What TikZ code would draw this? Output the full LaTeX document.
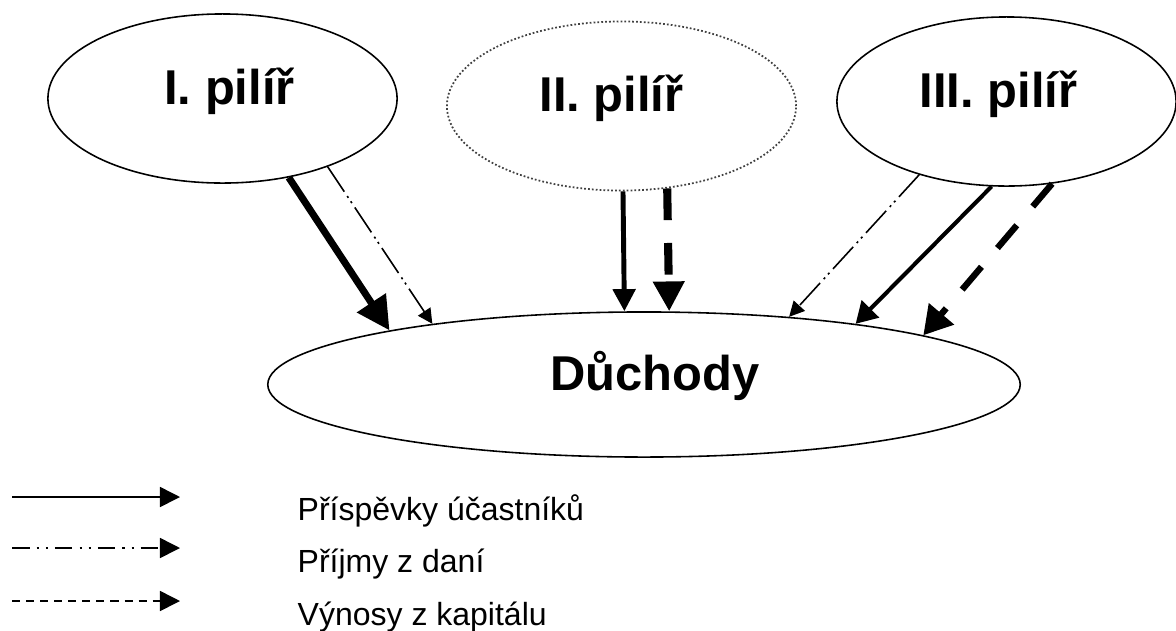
\documentclass[tikz,border=0pt]{standalone}
\usepackage{fontspec}
\setmainfont{Liberation Sans}
\usetikzlibrary{arrows.meta,shapes.geometric}

\begin{document}
\begin{tikzpicture}[x=0.01cm,y=-0.01cm,
  pillar/.style={ellipse, draw, line width=0.45pt, inner sep=0pt,
    minimum width=3.49cm, minimum height=1.69cm,
    text height=0.73em, text depth=0.4em,
    font=\fontsize{13.9}{16}\selectfont\bfseries},
  legendtext/.style={anchor=base west, inner sep=0pt, font=\fontsize{9.1}{11}\selectfont},
  contrib/.style={},
  taxes/.style={line width=0.45pt,
    dash pattern=on 8.5pt off 1.5pt on 0.6pt off 1.2pt on 0.6pt off 1.5pt},
  capital/.style={dash pattern=on 9pt off 6.5pt},
  tip/.style={-{Triangle[length=#1,width=#1]}},
]
\useasboundingbox (0,0) rectangle (1176,630);

% pillars and the pensions they feed
\node[pillar] (p1) at (222.5,98.5) {\hspace*{0.14cm}I. pilíř};
\node[pillar, draw=black!75, line width=0.5pt, dash pattern=on 0.5pt off 0.6pt] (p2) at (621.5,106) {II. pilíř\hspace*{0.2cm}};
\node[pillar, minimum width=3.39cm] (p3) at (1006.5,101.5) {III. pilíř\hspace*{0.16cm}};
\node[pillar, minimum width=7.52cm, minimum height=1.45cm] (d) at (644,384.5) {\hspace*{0.22cm}Důchody};

% I. pilíř
\draw[contrib, line width=2pt, tip=9.4pt] (p1.310.5) -- (d.168.75);
\draw[taxes, tip=4.2pt] (p1.327) -- (d.164.8);

% II. pilíř
\draw[contrib, line width=1.4pt, tip=6.3pt] (p2.271) -- (d.105.9);
\draw[capital, line width=2.3pt, tip=8.5pt] (p2.299.6) -- (d.71.9);

% III. pilíř
\draw[taxes, tip=4.3pt] (p3.220.9) -- (d.25.9);
\draw[contrib, line width=1.15pt, -{Triangle[length=6pt,width=6.8pt]}] (p3.260.2) -- (d.16.85);
\draw[capital, line width=1.8pt, dash pattern=on 8.5pt off 7pt, -{Triangle[length=8pt,width=9pt]}] (p3.299.2) -- (d.10.9);

% legend
\coordinate (l1s) at (12,497);  \coordinate (l1e) at (180,497);
\coordinate (l2s) at (12,548);  \coordinate (l2e) at (180,548);
\coordinate (l3s) at (12,601);  \coordinate (l3e) at (180,601);
\draw[line width=0.45pt, tip=5.7pt] (l1s) -- (l1e);
\draw[line width=0.45pt, dash pattern=on 5pt off 2pt on 0.6pt off 2pt on 0.6pt off 2pt, tip=5.7pt] (l2s) -- (l2e);
\draw[line width=0.45pt, dash pattern=on 2.3pt off 1.7pt, tip=5.7pt] (l3s) -- (l3e);
\node[legendtext] (t1) at (297,520) {Příspěvky účastníků};
\node[legendtext] (t2) at (297,572) {Příjmy z daní};
\node[legendtext] (t3) at (297,625) {Výnosy z kapitálu};
\end{tikzpicture}
\end{document}
